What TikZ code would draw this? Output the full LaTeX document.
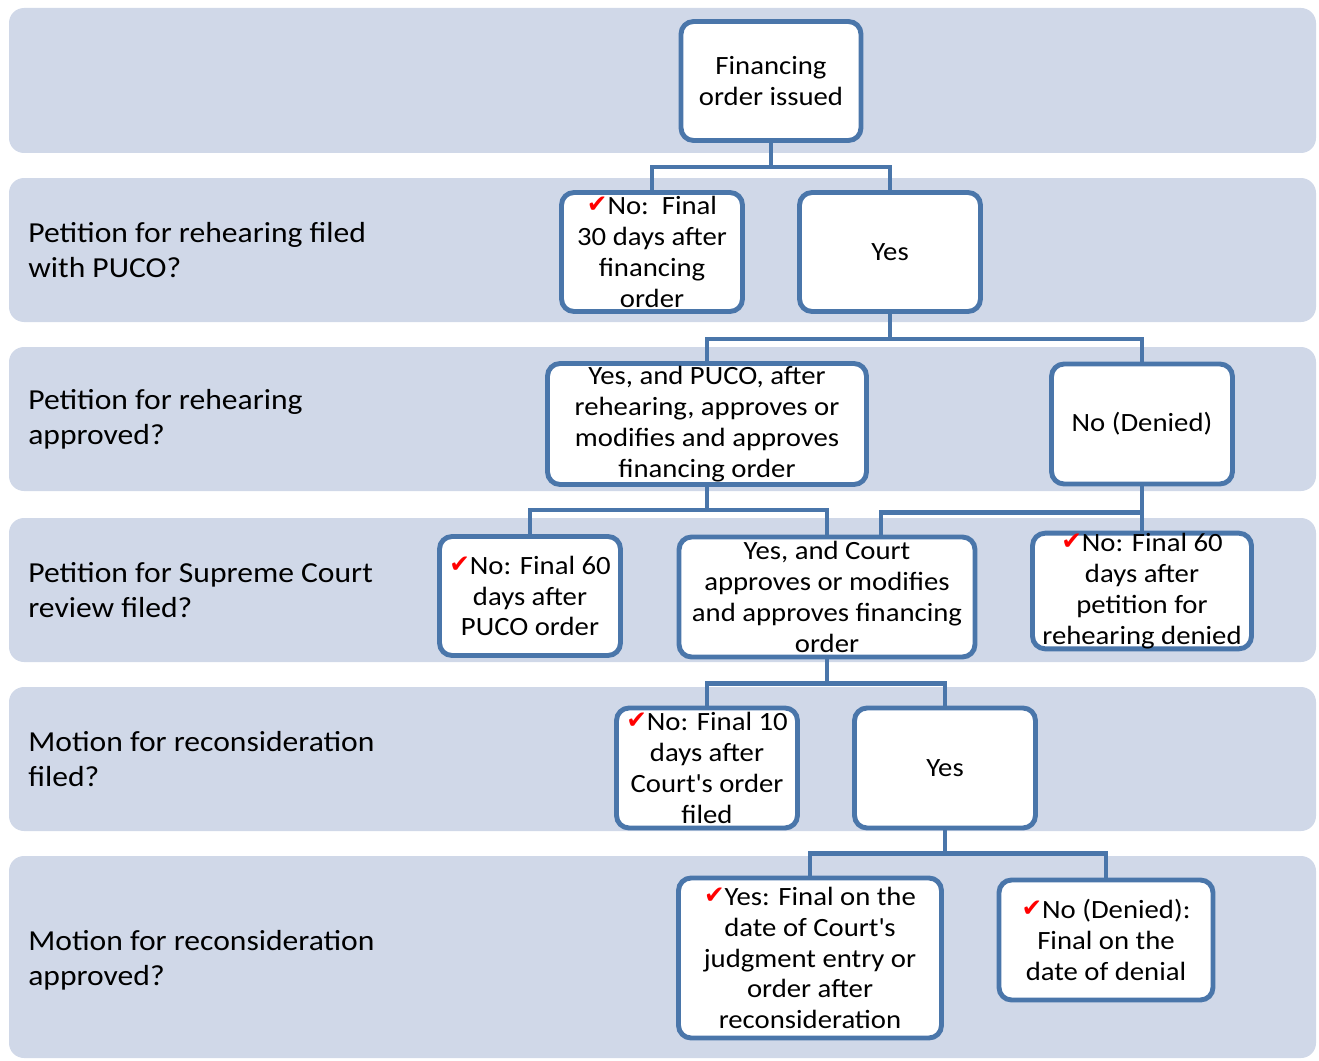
\documentclass[tikz,border=0pt]{standalone}
\usepackage{fontspec}
\setmainfont{Carlito}[FakeStretch=1.09]
\newfontfamily\symfont{DejaVu Sans}
\definecolor{laneblue}{HTML}{D0D8E8}
\definecolor{edgeblue}{HTML}{4A76AA}
\newcommand{\chk}{{\color{red}\symfont\fontsize{14}{14}\selectfont\raisebox{1pt}{✔}}}
\pgfdeclarelayer{lanes}
\pgfdeclarelayer{links}
\pgfsetlayers{lanes,links,main}
\tikzset{
  lane/.style={fill=laneblue, rounded corners=0.3cm},
  answer/.style={draw=edgeblue, line width=2.8pt, fill=white, rounded corners=0.25cm,
    align=center, inner sep=0pt, font=\fontsize{15}{17.6}\selectfont},
  question/.style={anchor=west, align=left, inner sep=0pt, font=\fontsize{16.5}{20}\selectfont},
  link/.style={draw=edgeblue, line width=2.7pt}
}
\begin{document}
\begin{tikzpicture}[x=0.02cm, y=-0.02cm]

    \useasboundingbox (0,0) rectangle (1319,1061);

    % bands
    \begin{pgfonlayer}{lanes}
    \fill[lane] (9,8) rectangle (1316,153);
    \fill[lane] (9,178) rectangle (1316,322);
    \fill[lane] (9,347) rectangle (1316,491);
    \fill[lane] (9,518) rectangle (1316,662);
    \fill[lane] (9,687) rectangle (1316,831);
    \fill[lane] (9,856) rectangle (1316,1058);
    \end{pgfonlayer}

    \node[question] (q1) at (28,250) {Petition for rehearing filed\\with PUCO?};
    \node[question] (q2) at (28,419) {Petition for rehearing\\approved?};
    \node[question] (q3) at (28,590) {Petition for Supreme Court\\review filed?};
    \node[question] (q4) at (28,759) {Motion for reconsideration\\filed?};
    \node[question] (q5) at (28,960) {Motion for reconsideration\\approved?};

    % answers
    \node[answer, minimum width=3.6cm, minimum height=2.38cm] (fin) at (771,81) {Financing\\order issued};
    \node[answer, minimum width=3.62cm, minimum height=2.38cm] (no30) at (652,252) {\chk No:\ \ Final\\30 days after\\financing\\order};
    \node[answer, minimum width=3.62cm, minimum height=2.38cm] (yes1) at (890,252) {Yes};
    \node[answer, minimum width=6.38cm, minimum height=2.42cm] (rehear) at (707,424) {Yes, and PUCO, after\\rehearing, approves or\\modifies and approves\\financing order};
    \node[answer, minimum width=3.62cm, minimum height=2.4cm] (denied) at (1142,424) {No (Denied)};
    \node[answer, minimum width=3.62cm, minimum height=2.38cm] (no60a) at (530,596) {\chk No: Final 60\\days after\\PUCO order};
    \node[answer, minimum width=5.92cm, minimum height=2.4cm] (court) at (827,597) {Yes, and Court\\approves or modifies\\and approves financing\\order};
    \node[answer, minimum width=4.38cm, minimum height=2.28cm] (no60b) at (1142,591) {\chk No: Final 60\\days after\\petition for\\rehearing denied};
    \node[answer, minimum width=3.62cm, minimum height=2.4cm] (no10) at (707,768) {\chk No: Final 10\\days after\\Court\textquotesingle s order\\filed};
    \node[answer, minimum width=3.62cm, minimum height=2.4cm] (yes2) at (945,768) {Yes};
    \node[answer, minimum width=5.26cm, minimum height=3.2cm] (final) at (810,958) {\chk Yes: Final on the\\date of Court\textquotesingle s\\judgment entry or\\order after\\reconsideration};
    \node[answer, minimum width=4.28cm, minimum height=2.4cm] (nodenied) at (1106,940) {\chk No (Denied):\\Final on the\\date of denial};

    % connectors
    \coordinate (cj) at (881,512);
    \begin{pgfonlayer}{links}
    \draw[link] (fin.south) -- ++(0,24) -| (no30.north);
    \draw[link] (fin.south) -- ++(0,24) -| (yes1.north);
    \draw[link] (yes1.south) -- ++(0,25) -| (rehear.north);
    \draw[link] (yes1.south) -- ++(0,25) -| (denied.north);
    \draw[link] (rehear.south) -- ++(0,23) -| (no60a.north);
    \draw[link] (rehear.south) -- ++(0,23) -| (court.north);
    \draw[link] (denied.south) -- (no60b.north);
    \draw[link] (denied.south) -- ++(0,26) -| (court.north -| cj);
    \draw[link] (court.south) -- ++(0,24) -| (no10.north);
    \draw[link] (court.south) -- ++(0,24) -| (yes2.north);
    \draw[link] (yes2.south) -- ++(0,23) -| (final.north);
    \draw[link] (yes2.south) -- ++(0,23) -| (nodenied.north);
    \end{pgfonlayer}

\end{tikzpicture}
\end{document}
